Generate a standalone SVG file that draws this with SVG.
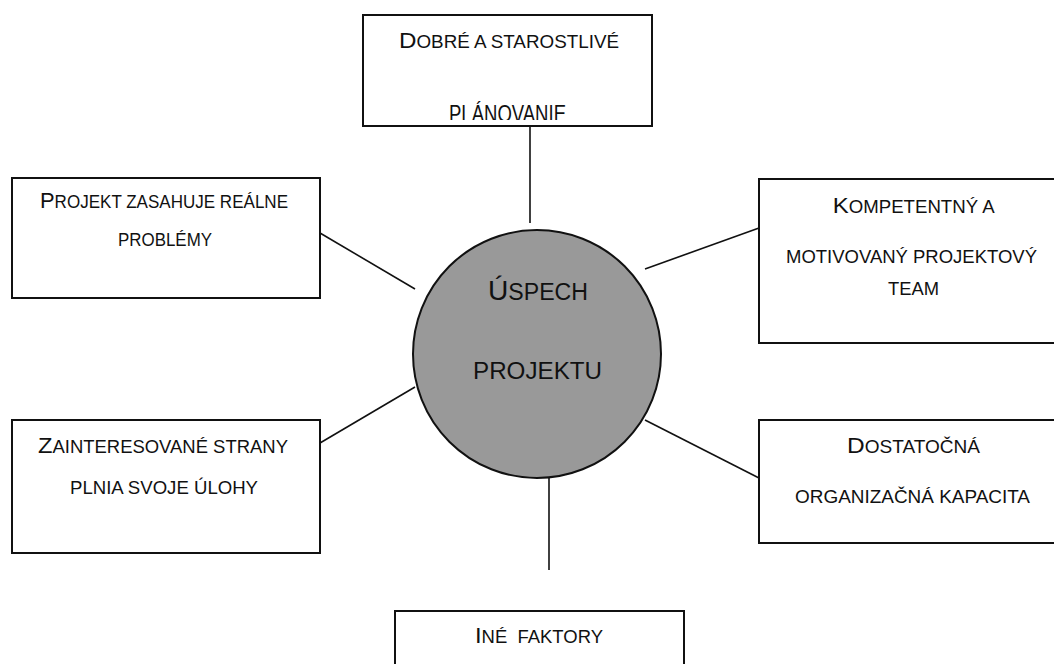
<svg xmlns="http://www.w3.org/2000/svg" width="1054" height="664" viewBox="0 0 1054 664">
  <style>
    .box { fill: #ffffff; stroke: #111111; stroke-width: 2; }
    .hub { fill: #999999; stroke: #111111; stroke-width: 2; }
    .link { stroke: #111111; stroke-width: 1.6; fill: none; }
    .lbl { font-family: "Liberation Sans", Arial, sans-serif; font-size: 17.5px; fill: #111111; white-space: pre; }
    .cap { font-size: 22.5px; }
    .hubtxt { font-size: 23px; }
    .hubcap { font-size: 28px; }
  </style>
  <defs>
    <clipPath id="topClip">
      <rect x="363" y="15" width="289" height="105"/>
    </clipPath>
  </defs>

  <!-- connectors -->
  <g id="connectors">
    <line class="link" x1="530" y1="126" x2="530" y2="223"/>
    <line class="link" x1="320" y1="233" x2="415" y2="289"/>
    <line class="link" x1="645" y1="269" x2="759" y2="228"/>
    <line class="link" x1="320" y1="443" x2="415" y2="387"/>
    <line class="link" x1="645" y1="420" x2="759" y2="478"/>
    <line class="link" x1="549" y1="473" x2="549" y2="570"/>
  </g>

  <!-- central node -->
  <g id="uspech-projektu">
    <circle class="hub" cx="537" cy="354" r="124"/>
    <text class="lbl hubtxt" x="488" y="300" textLength="100" lengthAdjust="spacingAndGlyphs"><tspan class="hubcap">Ú</tspan>SPECH</text>
    <text class="lbl hubtxt" x="473" y="379" textLength="129" lengthAdjust="spacingAndGlyphs">PROJEKTU</text>
  </g>

  <!-- top node -->
  <g id="planovanie">
    <rect class="box" x="363" y="15" width="289" height="111"/>
    <text class="lbl" x="399" y="47.5" textLength="220" lengthAdjust="spacingAndGlyphs"><tspan class="cap">D</tspan>OBRÉ A STAROSTLIVÉ</text>
    <g clip-path="url(#topClip)">
      <text class="lbl" x="449" y="121.5" textLength="117" lengthAdjust="spacingAndGlyphs" style="font-size:23px">PLÁNOVANIE</text>
    </g>
  </g>

  <!-- upper left node -->
  <g id="realne-problemy">
    <rect class="box" x="12" y="178" width="308" height="120"/>
    <text class="lbl" x="40" y="207.7" textLength="248" lengthAdjust="spacingAndGlyphs"><tspan class="cap">P</tspan>ROJEKT ZASAHUJE REÁLNE</text>
    <text class="lbl" x="118" y="246" textLength="94" lengthAdjust="spacingAndGlyphs">PROBLÉMY</text>
  </g>

  <!-- upper right node -->
  <g id="projektovy-team">
    <rect class="box" x="759" y="179" width="310" height="164"/>
    <text class="lbl" x="832.7" y="212.7" textLength="162" lengthAdjust="spacingAndGlyphs"><tspan class="cap">K</tspan>OMPETENTNÝ A</text>
    <text class="lbl" x="786" y="263" textLength="251" lengthAdjust="spacingAndGlyphs">MOTIVOVANÝ PROJEKTOVÝ</text>
    <text class="lbl" x="888" y="295" textLength="51" lengthAdjust="spacingAndGlyphs">TEAM</text>
  </g>

  <!-- lower left node -->
  <g id="zainteresovane-strany">
    <rect class="box" x="12" y="420" width="308" height="133"/>
    <text class="lbl" x="38" y="453" textLength="250" lengthAdjust="spacingAndGlyphs"><tspan class="cap">Z</tspan>AINTERESOVANÉ STRANY</text>
    <text class="lbl" x="70" y="494" textLength="188" lengthAdjust="spacingAndGlyphs">PLNIA SVOJE ÚLOHY</text>
  </g>

  <!-- lower right node -->
  <g id="organizacna-kapacita">
    <rect class="box" x="759" y="420" width="310" height="123"/>
    <text class="lbl" x="847" y="453" textLength="133" lengthAdjust="spacingAndGlyphs"><tspan class="cap">D</tspan>OSTATOČNÁ</text>
    <text class="lbl" x="795" y="503" textLength="235" lengthAdjust="spacingAndGlyphs">ORGANIZAČNÁ KAPACITA</text>
  </g>

  <!-- bottom node -->
  <g id="ine-faktory">
    <rect class="box" x="395" y="611" width="289" height="70"/>
    <text class="lbl" x="475" y="643" textLength="128" lengthAdjust="spacingAndGlyphs"><tspan class="cap">I</tspan>NÉ  FAKTORY</text>
  </g>
</svg>
